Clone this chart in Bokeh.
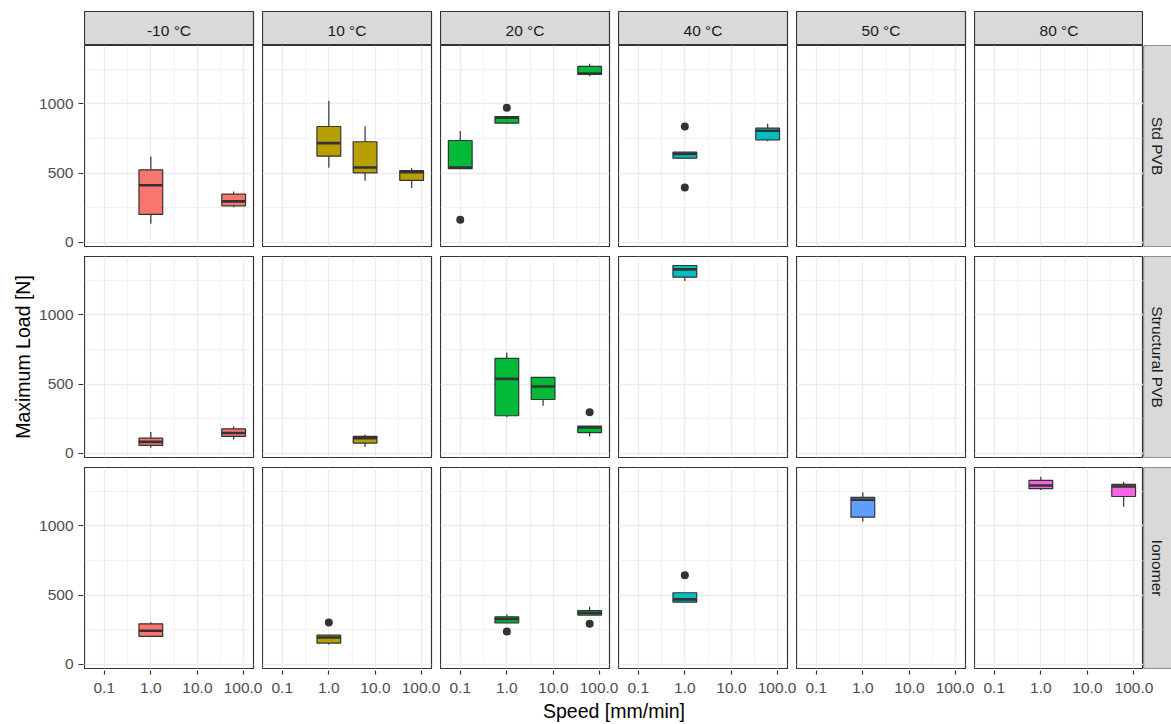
import math

from bokeh.embed import file_html
from bokeh.layouts import column, row
from bokeh.models import (ColumnDataSource, FixedTicker, Label, PrintfTickFormatter,
                          Range1d, Spacer, Span)
from bokeh.plotting import figure
from bokeh.resources import INLINE

# ---------------------------------------------------------------- data
MATERIALS = ["Std PVB", "Structural PVB", "Ionomer"]
TEMPERATURES = ["-10 °C", "10 °C", "20 °C", "40 °C", "50 °C", "80 °C"]
TEMPERATURE_FILLS = ["#F8766D", "#B79F00", "#00BA38", "#00BFC4", "#619CFF", "#F564E3"]

SPEED_TICKS = [0.1, 1, 10, 100]
SPEED_MINOR_TICKS = [10 ** -0.5, 10 ** 0.5, 10 ** 1.5]
LOAD_TICKS = [0, 500, 1000]
LOAD_MINOR_TICKS = [250, 750, 1250]

# box statistics: one entry per material / temperature / speed group
box_material = ["Std PVB"] * 10 + ["Structural PVB"] * 7 + ["Ionomer"] * 8
box_temperature = [
    "-10 °C", "-10 °C", "10 °C", "10 °C", "10 °C", "20 °C", "20 °C", "20 °C", "40 °C", "40 °C",
    "-10 °C", "-10 °C", "10 °C", "20 °C", "20 °C", "20 °C", "40 °C",
    "-10 °C", "10 °C", "20 °C", "20 °C", "40 °C", "50 °C", "80 °C", "80 °C",
]
box_speed = [
    1, 60, 1, 6, 60, 0.1, 1, 60, 1, 60,
    1, 60, 6, 1, 6, 60, 1,
    1, 1, 1, 60, 1, 1, 1, 60,
]
box_low = [135, 254, 538, 445, 392, 533, 855, 1199, 608, 730,
           41, 101, 46, 262, 344, 123, 1243,
           202, 144, 300, 356, 449, 1031, 1257, 1137]
box_q1 = [202, 264, 622, 502, 447, 533, 860, 1211, 608, 740,
          58, 123, 75, 272, 389, 151, 1271,
          202, 154, 300, 356, 449, 1062, 1267, 1211]
box_median = [413, 296, 716, 541, 507, 540, 899, 1218, 639, 805,
              84, 148, 110, 538, 483, 187, 1327,
              243, 195, 329, 372, 469, 1187, 1290, 1283]
box_q3 = [524, 348, 836, 726, 519, 735, 908, 1269, 651, 824,
          110, 178, 123, 685, 548, 197, 1355,
          293, 211, 344, 389, 517, 1204, 1327, 1298]
box_high = [620, 368, 1021, 838, 536, 803, 912, 1288, 651, 855,
            154, 197, 137, 726, 548, 197, 1355,
            305, 211, 360, 416, 517, 1242, 1353, 1317]

outlier_material = ["Std PVB"] * 4 + ["Structural PVB"] + ["Ionomer"] * 4
outlier_temperature = ["20 °C", "20 °C", "40 °C", "40 °C", "20 °C",
                       "10 °C", "20 °C", "20 °C", "40 °C"]
outlier_speed = [0.1, 1, 1, 1, 60, 1, 1, 60, 1]
outlier_load = [164, 971, 836, 397, 298, 303, 238, 293, 644]

# ---------------------------------------------------------------- style
FONT = "Liberation Sans"
INK = "#333333"
GRID = "#EBEBEB"
STRIP = "#D9D9D9"
TICK_TEXT = "#4D4D4D"
STRIP_TEXT = "#1A1A1A"
TICK_FONT_SIZE = "15.5px"
TITLE_FONT_SIZE = "19.5px"

PANEL_W, PANEL_H = 169, 201
COL_GAP, ROW_GAP = 9, 10
YTITLE_W = 36
YLABEL_PAD = 47
TOP_PAD, STRIP_H = 11, 34
SIDE_STRIP_W = 29
XAXIS_H = 28
XTITLE_H = 26
PAGE_H = 724
BOX_HALF = 10 ** 0.255          # half box width, in decades of speed

N_ROWS, N_COLS = len(MATERIALS), len(TEMPERATURES)

speed_range = Range1d(10 ** -1.424, 10 ** 2.204)
load_range = Range1d(-29, 1420)


def base_figure(**kw):
    opts = dict(output_backend="svg", toolbar_location=None,
                min_border_left=0, min_border_right=0,
                min_border_top=0, min_border_bottom=0,
                border_fill_color="white", background_fill_color="white")
    opts.update(kw)
    return figure(**opts)


def speed_ticker():
    return FixedTicker(ticks=SPEED_TICKS, minor_ticks=SPEED_MINOR_TICKS)


def load_ticker():
    return FixedTicker(ticks=LOAD_TICKS, minor_ticks=LOAD_MINOR_TICKS)


def style_ticks(ax, tick_out, standoff):
    ax.axis_line_color = None
    ax.major_tick_line_color = INK
    ax.major_tick_line_width = 1.2
    ax.major_tick_in = 0
    ax.major_tick_out = tick_out
    ax.minor_tick_line_color = None
    ax.major_label_standoff = standoff
    ax.major_label_text_font = FONT
    ax.major_label_text_font_size = TICK_FONT_SIZE
    ax.major_label_text_color = TICK_TEXT


def text_label(**kw):
    opts = dict(text_align="center", text_baseline="middle", text_font=FONT,
                text_font_size=TICK_FONT_SIZE, text_color=STRIP_TEXT)
    opts.update(kw)
    return Label(**opts)


def panel(mi, ti):
    material, temperature = MATERIALS[mi], TEMPERATURES[ti]
    p = base_figure(frame_width=PANEL_W, frame_height=PANEL_H, x_axis_type="log",
                    x_range=speed_range, y_range=load_range,
                    x_axis_location=None, y_axis_location=None,
                    min_border_right=COL_GAP if ti < N_COLS - 1 else 0,
                    min_border_bottom=ROW_GAP if mi < N_ROWS - 1 else 1,
                    outline_line_color=INK, outline_line_width=1.2)

    p.xgrid.ticker = speed_ticker()
    p.ygrid.ticker = load_ticker()
    p.grid.grid_line_color = GRID
    p.grid.grid_line_width = 1.3
    p.grid.minor_grid_line_color = GRID
    p.grid.minor_grid_line_width = 0.65

    idx = [i for i in range(len(box_speed))
           if box_material[i] == material and box_temperature[i] == temperature]
    if idx:
        speed = [box_speed[i] for i in idx]
        src = ColumnDataSource(dict(
            speed=speed,
            left=[s / BOX_HALF for s in speed],
            right=[s * BOX_HALF for s in speed],
            low=[box_low[i] for i in idx],
            q1=[box_q1[i] for i in idx],
            median=[box_median[i] for i in idx],
            q3=[box_q3[i] for i in idx],
            high=[box_high[i] for i in idx],
        ))
        fill = TEMPERATURE_FILLS[ti]
        p.segment(x0="speed", x1="speed", y0="q3", y1="high", source=src,
                  line_color=INK, line_width=1.2)
        p.segment(x0="speed", x1="speed", y0="q1", y1="low", source=src,
                  line_color=INK, line_width=1.2)
        p.quad(left="left", right="right", bottom="q1", top="q3", source=src,
               fill_color=fill, line_color=INK, line_width=1.2)
        p.segment(x0="left", x1="right", y0="median", y1="median", source=src,
                  line_color=INK, line_width=2.6)

    odx = [i for i in range(len(outlier_speed))
           if outlier_material[i] == material and outlier_temperature[i] == temperature]
    if odx:
        osrc = ColumnDataSource(dict(speed=[outlier_speed[i] for i in odx],
                                     load=[outlier_load[i] for i in odx]))
        p.scatter(x="speed", y="load", source=osrc, size=8,
                  fill_color=INK, line_color=None)
    return p


def load_axis(mi):
    # a one-pixel-wide frame that only carries the load axis of a facet row
    last = mi == N_ROWS - 1
    p = base_figure(frame_width=1, frame_height=PANEL_H,
                    x_range=Range1d(0, 1), y_range=load_range,
                    x_axis_location=None, y_axis_location="left",
                    min_border_left=YLABEL_PAD - 1,
                    min_border_bottom=(1 + 1 + XAXIS_H) if last else ROW_GAP,
                    outline_line_color=None)
    p.grid.visible = False
    ax = p.yaxis[0]
    ax.ticker = load_ticker()
    style_ticks(ax, tick_out=5, standoff=5)
    return p


def temperature_strip(ti):
    p = base_figure(frame_width=PANEL_W, frame_height=STRIP_H,
                    x_range=Range1d(0, PANEL_W), y_range=Range1d(0, STRIP_H),
                    x_axis_location=None, y_axis_location=None,
                    min_border_right=COL_GAP if ti < N_COLS - 1 else 0,
                    min_border_top=TOP_PAD,
                    background_fill_color=STRIP,
                    outline_line_color=INK, outline_line_width=1.2)
    p.grid.visible = False
    p.add_layout(text_label(x=PANEL_W / 2, y=15, text=TEMPERATURES[ti]))
    return p


def material_strip(mi):
    p = base_figure(frame_width=SIDE_STRIP_W, frame_height=PANEL_H,
                    x_range=Range1d(0, SIDE_STRIP_W), y_range=Range1d(0, PANEL_H),
                    x_axis_location=None, y_axis_location=None,
                    min_border_bottom=ROW_GAP if mi < N_ROWS - 1 else 1,
                    background_fill_color=STRIP, outline_line_color=None)
    p.grid.visible = False
    for loc, dim in ((0, "height"), (0, "width"), (PANEL_H, "width")):
        p.add_layout(Span(location=loc, dimension=dim, line_color=INK, line_width=1.2))
    p.add_layout(text_label(x=13.5, y=PANEL_H / 2, text=MATERIALS[mi],
                            angle=-math.pi / 2))
    return p


def speed_axis(ti):
    p = base_figure(frame_width=PANEL_W, frame_height=1, x_axis_type="log",
                    x_range=speed_range, y_range=Range1d(0, 1),
                    x_axis_location="below", y_axis_location=None,
                    min_border_right=COL_GAP if ti < N_COLS - 1 else SIDE_STRIP_W,
                    min_border_bottom=XAXIS_H, outline_line_color=None)
    p.grid.visible = False
    ax = p.xaxis[0]
    ax.ticker = speed_ticker()
    ax.formatter = PrintfTickFormatter(format="%.1f")
    style_ticks(ax, tick_out=4, standoff=8)
    return p


# axis titles
grid_w = N_COLS * PANEL_W + (N_COLS - 1) * COL_GAP
body_w = grid_w + SIDE_STRIP_W
x_title = base_figure(frame_width=body_w, frame_height=XTITLE_H,
                      x_range=Range1d(0, body_w), y_range=Range1d(0, XTITLE_H),
                      x_axis_location=None, y_axis_location=None,
                      outline_line_color=None)
x_title.grid.visible = False
x_title.add_layout(text_label(x=grid_w / 2, y=14, text="Speed [mm/min]",
                              text_font_size=TITLE_FONT_SIZE, text_color="black"))

y_title = base_figure(frame_width=YTITLE_W, frame_height=PAGE_H,
                      x_range=Range1d(0, YTITLE_W), y_range=Range1d(0, PAGE_H),
                      x_axis_location=None, y_axis_location=None,
                      outline_line_color=None)
y_title.grid.visible = False
panels_h = N_ROWS * PANEL_H + (N_ROWS - 1) * ROW_GAP
y_title.add_layout(text_label(x=22.5, y=PAGE_H - (TOP_PAD + STRIP_H + panels_h / 2),
                              text="Maximum Load [N]", angle=math.pi / 2,
                              text_font_size=TITLE_FONT_SIZE, text_color="black"))

load_axes = column(
    Spacer(width=YLABEL_PAD, height=TOP_PAD + STRIP_H),
    *[load_axis(m) for m in range(N_ROWS)],
    Spacer(width=YLABEL_PAD, height=XTITLE_H),
)

facets = column(
    row(*[temperature_strip(t) for t in range(N_COLS)],
        Spacer(width=SIDE_STRIP_W, height=TOP_PAD + STRIP_H)),
    *[row(*[panel(m, t) for t in range(N_COLS)], material_strip(m)) for m in range(N_ROWS)],
    row(*[speed_axis(t) for t in range(N_COLS)]),
    x_title,
)
layout = row(y_title, load_axes, facets)

with open("out.html", "w") as f:
    f.write(file_html(layout, INLINE))
